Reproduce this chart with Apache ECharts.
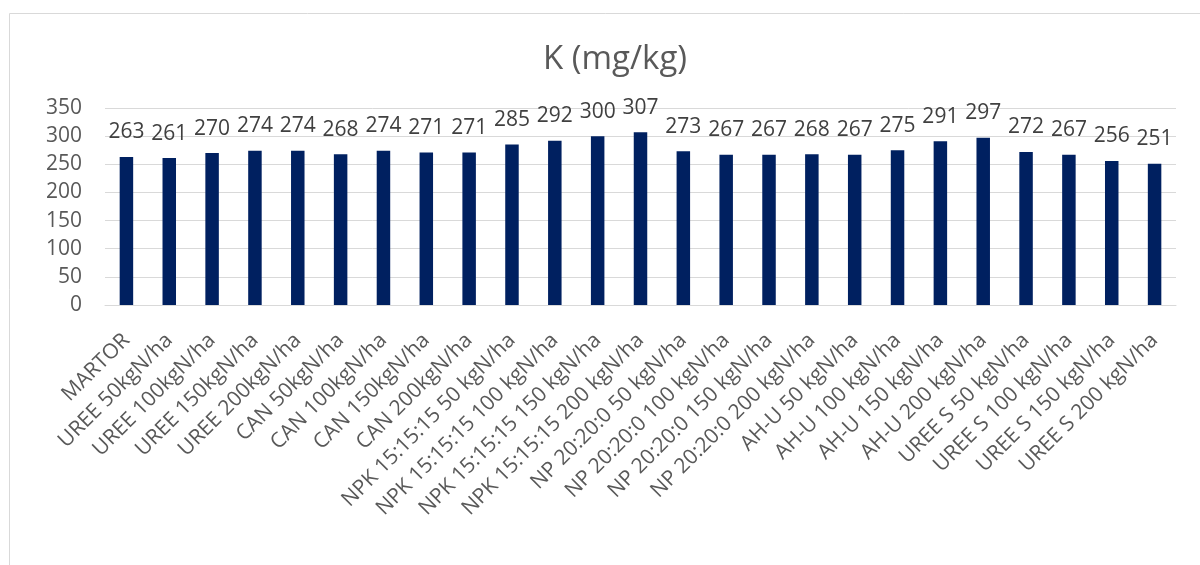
<!DOCTYPE html>
<html><head><meta charset="utf-8">
<script src="https://cdn.jsdelivr.net/npm/echarts@6/dist/echarts.min.js"></script>
<style>html,body{margin:0;padding:0;background:#fff}#c{width:1200px;height:565px}</style>
</head><body><div id="c"></div>
<script>
const categories = ["MARTOR","UREE 50kgN/ha","UREE 100kgN/ha","UREE 150kgN/ha","UREE 200kgN/ha","CAN 50kgN/ha","CAN 100kgN/ha","CAN 150kgN/ha","CAN 200kgN/ha","NPK 15:15:15 50 kgN/ha","NPK 15:15:15 100 kgN/ha","NPK 15:15:15 150 kgN/ha","NPK 15:15:15 200 kgN/ha","NP 20:20:0 50 kgN/ha","NP 20:20:0 100 kgN/ha","NP 20:20:0 150 kgN/ha","NP 20:20:0 200 kgN/ha","AH-U 50 kgN/ha","AH-U 100 kgN/ha","AH-U 150 kgN/ha","AH-U 200 kgN/ha","UREE S 50 kgN/ha","UREE S 100 kgN/ha","UREE S 150 kgN/ha","UREE S 200 kgN/ha"];
const values = [263,261,270,274,274,268,274,271,271,285,292,300,307,273,267,267,268,267,275,291,297,272,267,256,251];
const titleText = "K (mg/kg)";
const chart = echarts.init(document.getElementById('c'));
const FONT = "Open Sans";
chart.setOption({
  animation:false,
  title:{text:titleText,left:610,top:38,textAlign:'center',textStyle:{fontFamily:FONT,fontSize:33,fontWeight:'normal',color:'#595959'}},
  graphic:[{type:'rect',shape:{x:9.5,y:13.5,width:1200,height:600},style:{fill:'none',stroke:'#d9d9d9',lineWidth:1}}],
  grid:{left:105,right:24,top:108,bottom:260,containLabel:false},
  xAxis:{type:'category',data:categories,
    axisLine:{lineStyle:{color:'#d9d9d9',width:1}},axisTick:{show:false},
    axisLabel:{interval:0,rotate:45,fontFamily:FONT,fontSize:21,color:'#595959',margin:32}},
  yAxis:{type:'value',min:0,max:350,interval:50,
    axisLine:{show:false},axisTick:{show:false},
    splitLine:{lineStyle:{color:'#d9d9d9',width:1}},
    axisLabel:{fontFamily:FONT,fontSize:21,color:'#595959',margin:23}},
  series:[{type:'bar',data:values,barWidth:'31.5%',itemStyle:{color:'#002060'},
    label:{show:true,position:'top',distance:14,fontFamily:FONT,fontSize:21,color:'#404040'}}]
});
</script></body></html>
